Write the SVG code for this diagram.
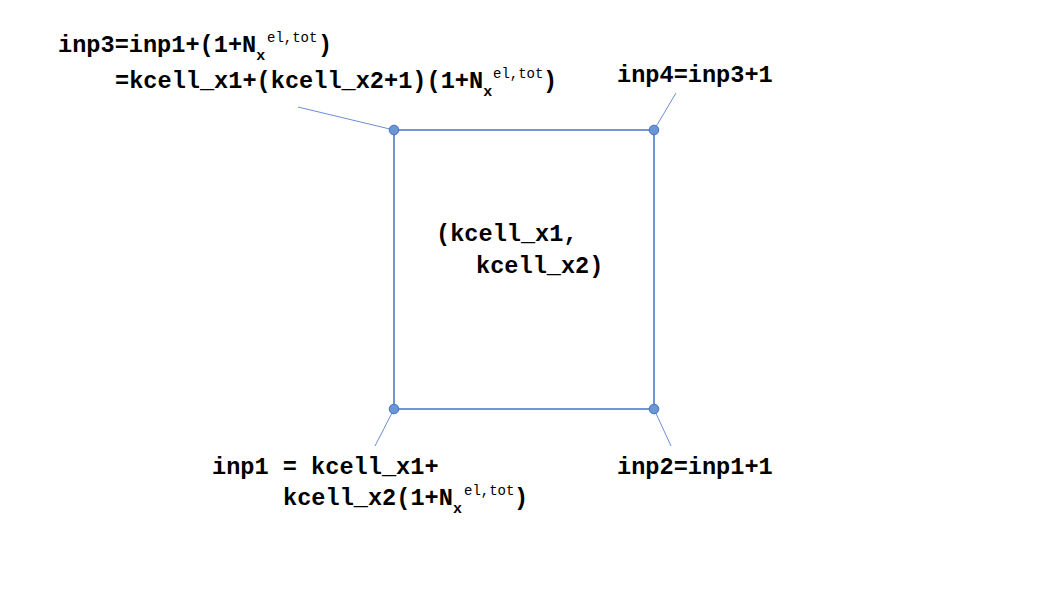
<svg xmlns="http://www.w3.org/2000/svg" width="1058" height="595" viewBox="0 0 1058 595">
<style>
.t{font-family:"Liberation Mono","Courier New",monospace;font-weight:bold;font-size:23.6px;fill:#000}
.sub{font-size:15px}
.sup{font-size:14px;font-weight:normal}
.box{fill:none;stroke:#4472c4;stroke-width:1.5}
.lead{stroke:#4472c4;stroke-width:0.8;fill:none}
.pt{fill:#6b95d3;stroke:#4472c4;stroke-width:1}
</style>
<rect width="1058" height="595" fill="#fff"/>
<g id="connectors">
<line class="lead" x1="394" y1="130" x2="298" y2="107"/>
<line class="lead" x1="654" y1="130" x2="676" y2="93"/>
<line class="lead" x1="394" y1="409" x2="375" y2="446"/>
<line class="lead" x1="654" y1="409" x2="671" y2="446"/>
</g>
<g id="cell">
<rect class="box" x="394" y="130" width="260" height="279"/>
<text class="t" x="436" y="241">(kcell_x1,</text>
<text class="t" x="476" y="273">kcell_x2)</text>
</g>
<g id="inp3">
<circle class="pt" cx="394" cy="130" r="4.8"/>
<text class="t" x="58" y="52">inp3=inp1+(1+N<tspan class="sub" dy="8">x</tspan><tspan class="sup" x="267" dy="-18">el,tot</tspan><tspan x="318" dy="10">)</tspan></text>
<text class="t" x="115" y="88">=kcell_x1+(kcell_x2+1)(1+N<tspan class="sub" dy="8">x</tspan><tspan class="sup" x="493" dy="-18">el,tot</tspan><tspan x="543" dy="10">)</tspan></text>
</g>
<g id="inp4">
<circle class="pt" cx="654" cy="130" r="4.8"/>
<text class="t" x="617" y="82">inp4=inp3+1</text>
</g>
<g id="inp1">
<circle class="pt" cx="394" cy="409" r="4.8"/>
<text class="t" x="212" y="474">inp1 = kcell_x1+</text>
<text class="t" x="283" y="505">kcell_x2(1+N<tspan class="sub" dy="8">x</tspan><tspan class="sup" x="464" dy="-18">el,tot</tspan><tspan x="514" dy="10">)</tspan></text>
</g>
<g id="inp2">
<circle class="pt" cx="654" cy="409" r="4.8"/>
<text class="t" x="617" y="474">inp2=inp1+1</text>
</g>
</svg>
